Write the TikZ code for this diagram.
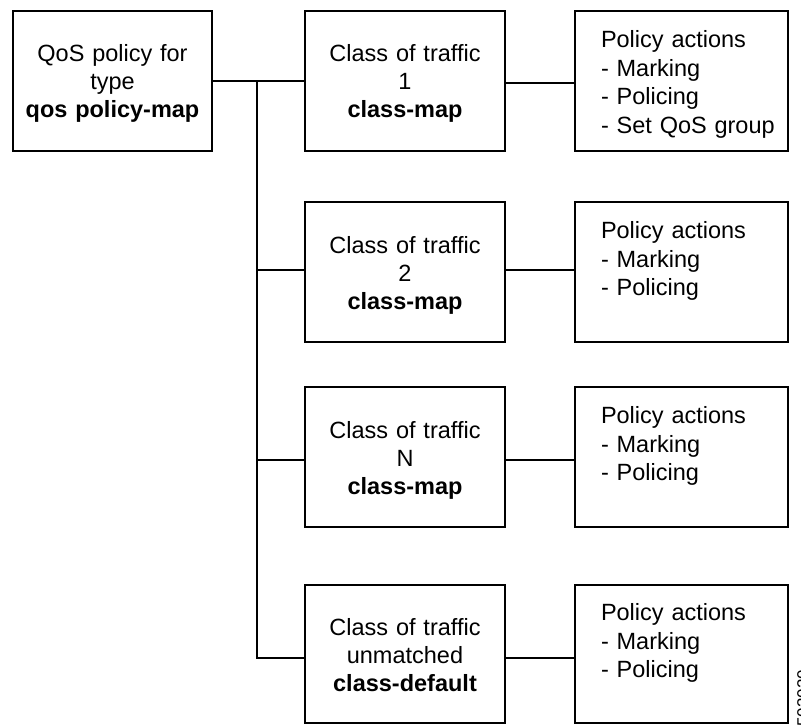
\documentclass[tikz,border=0pt]{standalone}
\usepackage{fontspec}
\setmainfont{Liberation Sans}
\begin{document}
\begin{tikzpicture}[x=1pt,y=-1pt,
  box/.style={draw=black,line width=1.8pt,inner sep=0pt,minimum height=140pt},
  cbox/.style={box,minimum width=199pt,text width=199pt,align=center,
    font=\fontsize{23.5}{28}\selectfont,text height=20pt,text depth=58pt},
  pbox/.style={box,minimum width=213pt,text width=161pt,align=left,
    font=\fontsize{23.5}{28.6}\selectfont,text height=20pt,text depth=87pt},
  conn/.style={draw=black,line width=1.2pt}]
\useasboundingbox (0,0) rectangle (801,725);
% left box
\node[cbox] (L) at (112.5,81) {QoS policy for\\type\\\textbf{qos policy-map}};
% class boxes
\node[cbox,minimum width=200pt] (C1) at (405,81) {Class of traffic\\1\\\textbf{class-map}};
\node[cbox,minimum width=200pt] (C2) at (405,272) {Class of traffic\\2\\\textbf{class-map}};
\node[cbox,minimum width=200pt] (C3) at (405,457) {Class of traffic\\N\\\textbf{class-map}};
\node[cbox,minimum width=200pt,minimum height=138pt] (C4) at (405,654) {Class of traffic\\unmatched\\\textbf{class-default}};
% policy boxes
\node[pbox] (P1) at (681.5,81) {\mbox{Policy actions}\\\mbox{- Marking}\\\mbox{- Policing}\\\mbox{- Set QoS group}};
\node[pbox] (P2) at (681.5,272) {\mbox{Policy actions}\\\mbox{- Marking}\\\mbox{- Policing}};
\node[pbox] (P3) at (681.5,457) {\mbox{Policy actions}\\\mbox{- Marking}\\\mbox{- Policing}};
\node[pbox,minimum height=138pt] (P4) at (681.5,654) {\mbox{Policy actions}\\\mbox{- Marking}\\\mbox{- Policing}};
% connectors
\coordinate (J) at (257,81);
\draw[conn] (L.east) -- (C1.west);
\draw[conn] (J) |- ([yshift=2pt]C2.west);
\draw[conn] (J) |- ([yshift=-3pt]C3.west);
\draw[conn] (J) |- ([yshift=-4pt]C4.west);
\draw[conn] ([yshift=-2pt]C1.east) -- ([yshift=-2pt]P1.west);
\draw[conn] ([yshift=2pt]C2.east) -- ([yshift=2pt]P2.west);
\draw[conn] ([yshift=-3pt]C3.east) -- ([yshift=-3pt]P3.west);
\draw[conn] ([yshift=-4pt]C4.east) -- ([yshift=-4pt]P4.west);
% figure id
\node[rotate=90,anchor=base west,inner sep=0pt,font=\fontsize{17}{20}\selectfont] (ID) at (809,727) {503020};
\end{tikzpicture}
\end{document}
